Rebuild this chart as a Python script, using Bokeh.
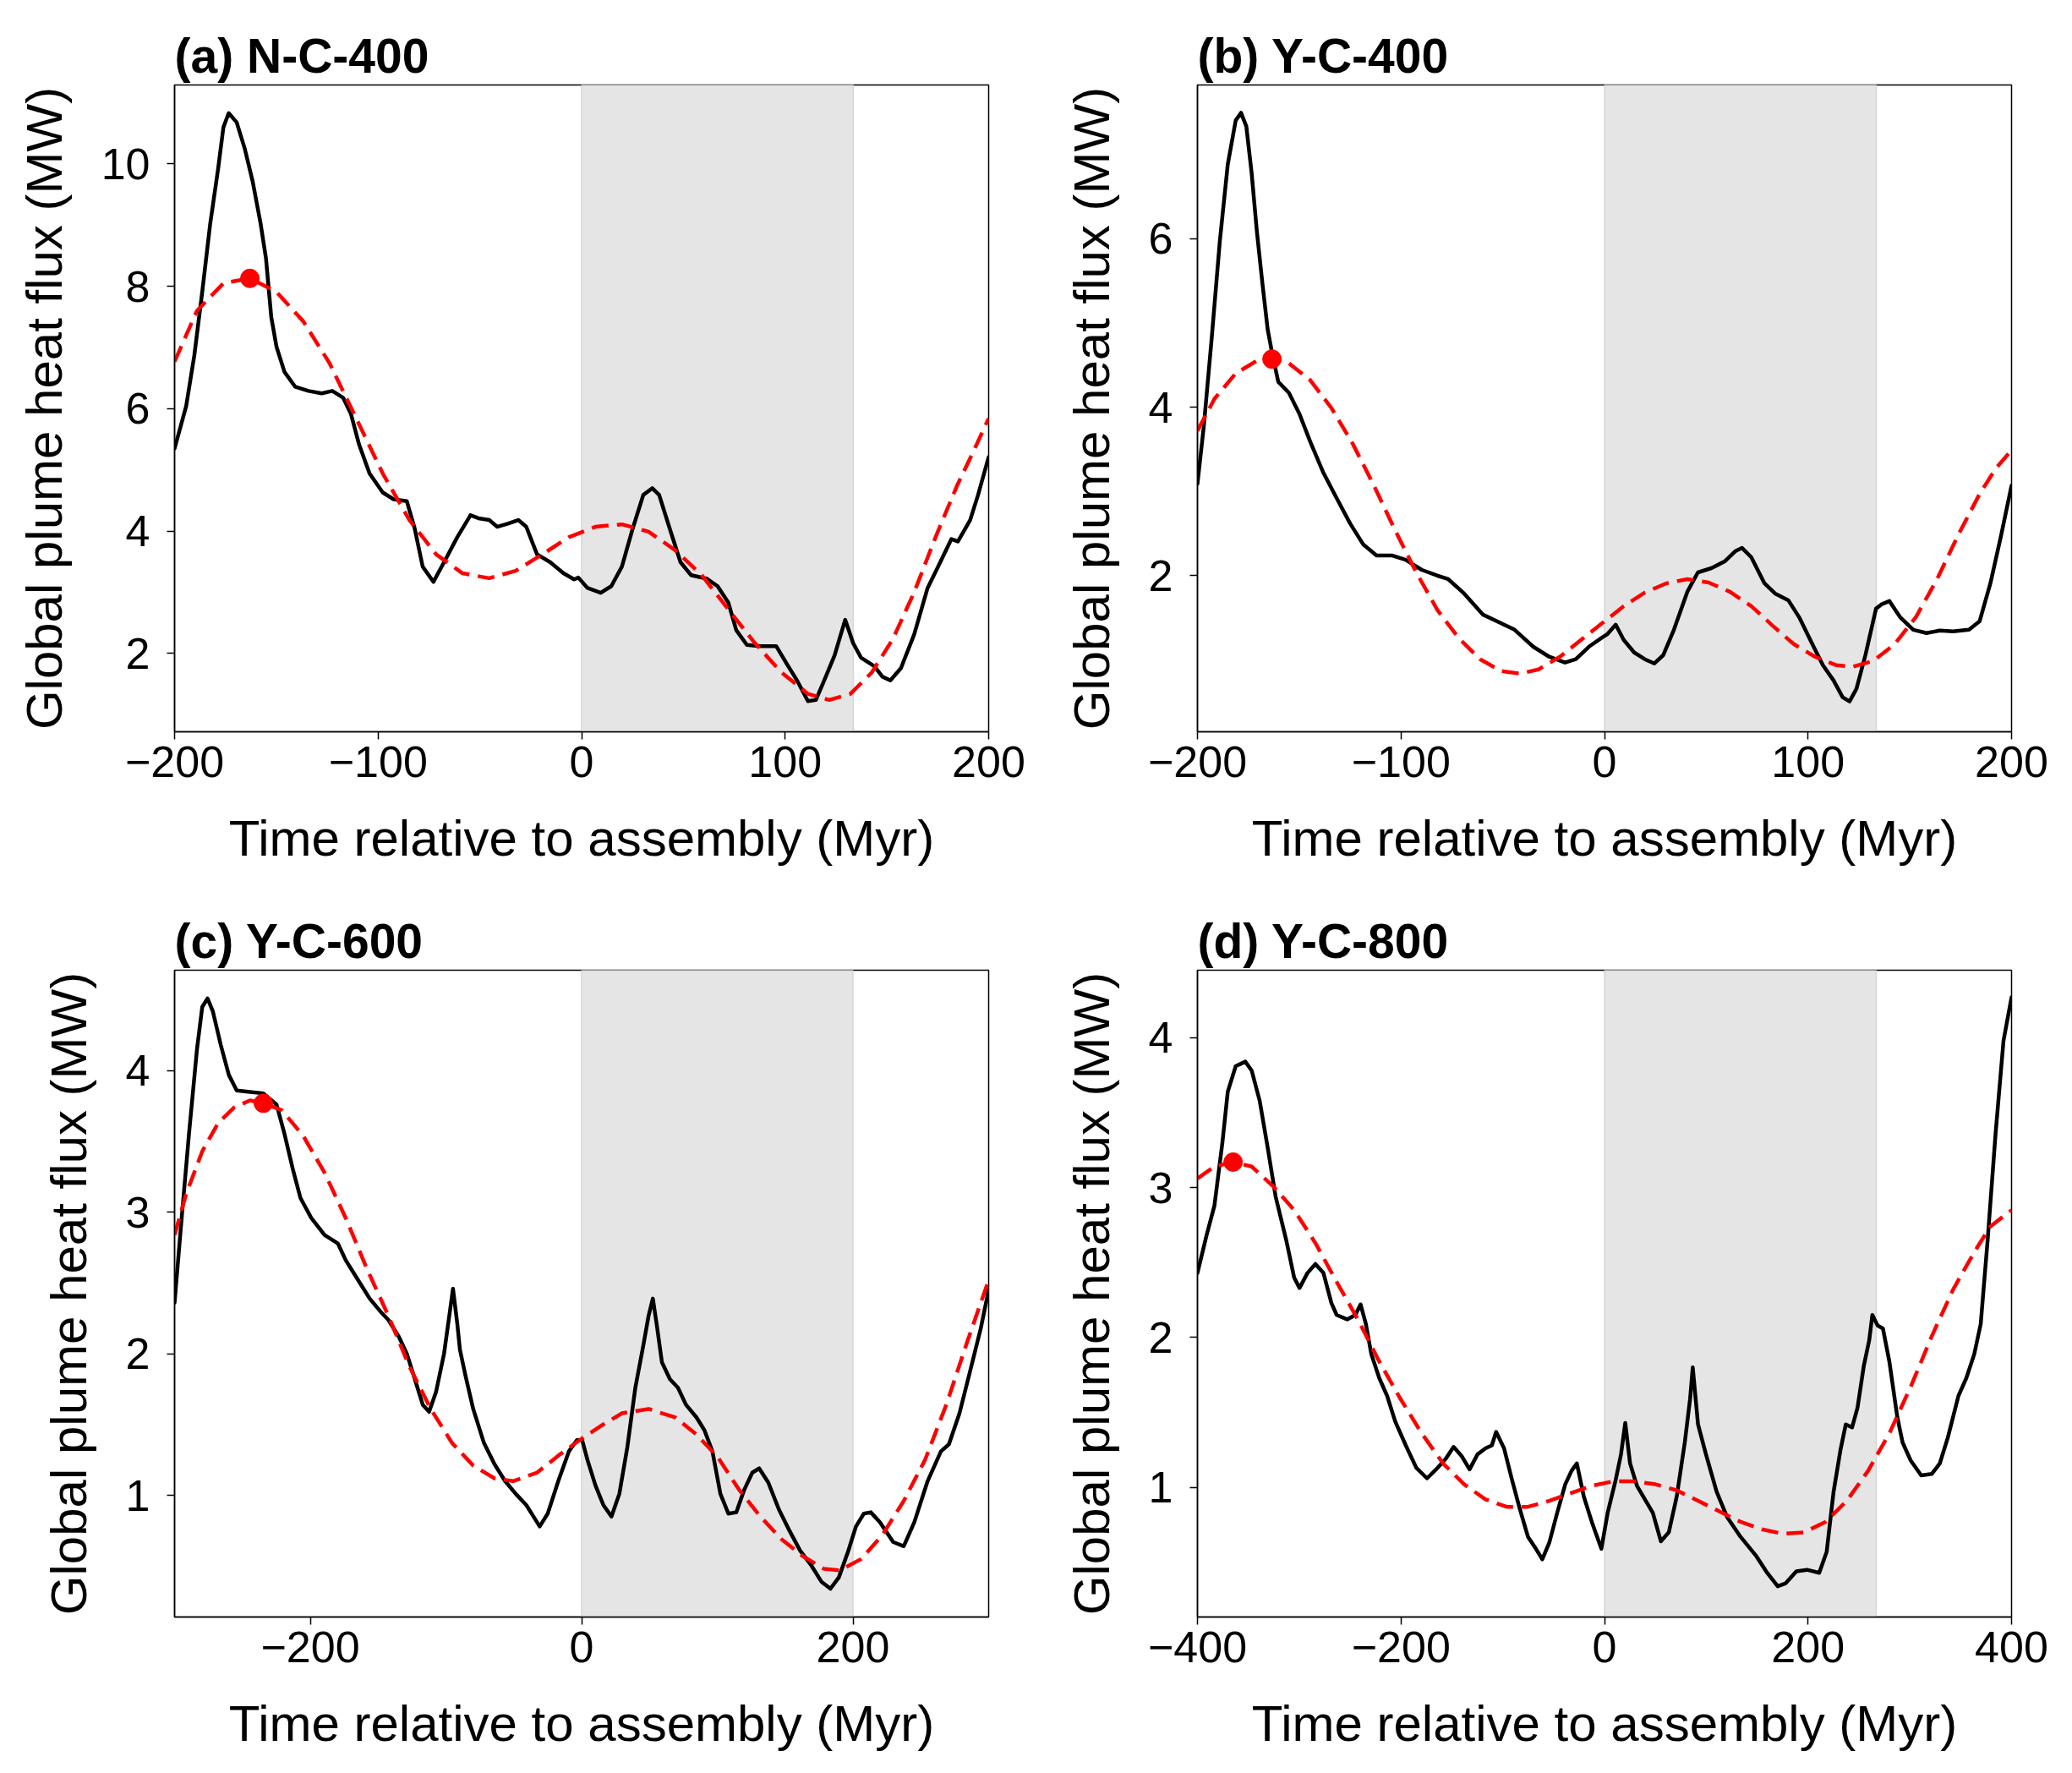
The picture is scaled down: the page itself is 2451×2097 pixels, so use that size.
from bokeh.plotting import figure
from bokeh.models import Range1d, FixedTicker, BoxAnnotation
from bokeh.layouts import column, row
from bokeh.embed import file_html
from bokeh.resources import INLINE

FONT = "Liberation Sans"

# ---------------- data ----------------
titles = ["(a) N-C-400", "(b) Y-C-400", "(c) Y-C-600", "(d) Y-C-800"]
x_label = "Time relative to assembly (Myr)"
y_label = "Global plume heat flux (MW)"

# panel (a)
a_x = [-200, -194.3, -190.3, -186.4, -182.5, -178.6, -176, -173.4, -169.5, -165.6, -161.6, -157.7,
       -155.1, -152.5, -149.9, -146, -140.8, -134.2, -127.7, -122.5, -117.2, -113.3, -109.4, -104.2,
       -97.7, -92.4, -85.9, -82, -78.1, -72.8, -67.6, -61.1, -54.6, -50.7, -45.4, -41.5, -36.3, -31.1,
       -27.2, -21.9, -15.4, -8.9, -3.7, -1.6, 2.9, 9.4, 14.6, 19.8, 25.1, 30.3, 34.7, 38.1, 43.3, 48.6,
       53.8, 61.6, 66.8, 72.1, 76, 81.2, 87.7, 95.6, 100.8, 106, 111.2, 115.1, 119.1, 124.3, 129.5,
       133.4, 137.3, 143.9, 147.8, 151.7, 156.9, 163.4, 170, 175.2, 181.7, 184.9, 190.9, 194.8, 200]
a_y = [5.35, 6.04, 6.87, 7.91, 9.02, 9.92, 10.6, 10.83, 10.68, 10.26, 9.71, 9.02,
       8.46, 7.5, 7.01, 6.6, 6.36, 6.29, 6.25, 6.29, 6.18, 5.91, 5.42, 4.94,
       4.63, 4.52, 4.49, 4.04, 3.42, 3.17, 3.49, 3.9, 4.26, 4.21, 4.18, 4.07, 4.12, 4.18,
       4.07, 3.62, 3.49, 3.31, 3.21, 3.24, 3.07, 2.99, 3.1, 3.42, 4.04, 4.59, 4.7, 4.59, 4.04, 3.49,
       3.28, 3.22, 3.1, 2.83, 2.38, 2.14, 2.12, 2.12, 1.83, 1.55, 1.22, 1.24, 1.55, 1.97, 2.55,
       2.17, 1.93, 1.79, 1.62, 1.56, 1.76, 2.31, 3.07, 3.42, 3.87, 3.83, 4.18, 4.59, 5.21]
a_fit_x = [-200, -189, -176, -163, -150, -136.8, -123.8, -110.7, -97.7, -84.6, -71.5, -58.5, -45.4,
           -32.4, -19.3, -6.3, 6.8, 19.8, 32.9, 45.9, 59, 72.1, 85.1, 98.2, 111.2, 121.7, 132.1,
           142.6, 153, 163.4, 173.9, 184.3, 192.2, 200]
a_fit_y = [6.77, 7.6, 8.05, 8.13, 7.91, 7.43, 6.74, 5.84, 4.94, 4.18, 3.62, 3.31, 3.23,
           3.35, 3.62, 3.9, 4.07, 4.11, 3.99, 3.69, 3.28, 2.72, 2.17, 1.69, 1.34, 1.24, 1.34,
           1.69, 2.24, 3.0, 3.9, 4.73, 5.28, 5.84]
a_peak = (-163, 8.13)

# panel (b)
b_x = [-200, -196.9, -193, -189, -185.1, -181.2, -178.6, -176, -173.4, -170.8, -168.1, -165.5,
       -163.4, -160.3, -155.1, -149.9, -144.6, -138.1, -131.6, -125, -118.5, -112, -104.2, -97.7,
       -89.8, -82, -76.8, -69, -59.8, -52, -44.2, -35.1, -27.2, -19.4, -14.1, -7.6, -1.1, 1.5, 5.5,
       9.4, 14.6, 19.8, 24.5, 28.9, 34.1, 40.7, 45.9, 52.5, 59, 64.2, 67.6, 72.1, 78.6, 83.8, 90.3,
       95.6, 102.1, 107.3, 112.5, 117, 120.4, 123.8, 128.2, 133.4, 136, 140, 145.2, 151.7, 158.2,
       164.7, 171.3, 179.1, 184.3, 189.6, 194.8, 200]
b_y = [3.09, 3.77, 4.82, 5.97, 6.88, 7.40, 7.49, 7.33, 6.78, 6.08, 5.47, 4.92,
       4.65, 4.30, 4.17, 3.92, 3.59, 3.22, 2.92, 2.62, 2.37, 2.24, 2.24, 2.19,
       2.07, 2.00, 1.96, 1.79, 1.54, 1.45, 1.36, 1.16, 1.04, 0.97, 1.01, 1.16, 1.27, 1.31, 1.42,
       1.24, 1.09, 1.01, 0.96, 1.06, 1.36, 1.81, 2.04, 2.09, 2.17, 2.29, 2.33, 2.22, 1.91, 1.79, 1.71,
       1.51, 1.19, 0.94, 0.76, 0.56, 0.51, 0.66, 1.06, 1.61, 1.66, 1.70, 1.51, 1.36, 1.32,
       1.35, 1.34, 1.36, 1.46, 1.91, 2.47, 3.07]
b_fit_x = [-200, -191.6, -181.2, -170.8, -163.4, -155.1, -144.6, -134.2, -123.8, -113.3, -102.9,
           -92.5, -82, -71.6, -61.1, -50.7, -41.5, -32.4, -21.9, -11.5, -1.0, 9.4, 19.8, 30.3, 40.7,
           51.2, 61.6, 72.1, 82.5, 93, 103.4, 113.8, 121.7, 132.1, 142.6, 153, 163.4, 173.9, 184.3,
           192.2, 200]
b_fit_y = [3.72, 4.10, 4.40, 4.55, 4.57, 4.52, 4.32, 3.99, 3.57, 3.07, 2.54,
           2.04, 1.59, 1.26, 1.01, 0.87, 0.84, 0.89, 1.04, 1.24, 1.44, 1.64, 1.80, 1.91, 1.96,
           1.92, 1.81, 1.64, 1.41, 1.19, 1.04, 0.94, 0.92, 0.99, 1.19, 1.51, 1.96, 2.49, 2.97,
           3.27, 3.49]
b_peak = (-163.4, 4.57)

# panel (c)
c_x = [-300, -295.3, -289.4, -283.5, -279.6, -275.7, -271.8, -265.9, -260, -254.2, -244.4, -234.6,
       -224.8, -218.9, -213.0, -207.2, -199.3, -189.5, -179.7, -173.8, -166, -156.2, -148.4, -142.5,
       -134.7, -128.8, -122.9, -117.1, -112.4, -107.3, -101.4, -97.5, -94.8, -91.6, -89.7, -85.7,
       -79.9, -72.0, -64.2, -56.4, -48.5, -40.7, -34.8, -30.9, -25.0, -17.2, -9.4, -3.5, 0.4, 4.3,
       10.2, 16.1, 22.0, 27.8, 33.7, 39.6, 45.5, 49.4, 52.5, 55.3, 59.2, 65.1, 71.0, 76.9, 84.7,
       90.5, 96.4, 102.3, 108.2, 114.0, 119.9, 125.8, 130.9, 137.6, 145.4, 153.2, 161.0, 168.9,
       176.7, 183.4, 189.6, 196.3, 202.2, 208.0, 213.1, 219.8, 229.6, 237.4, 245.2, 255.0, 264.8,
       270.7, 278.5, 286.4, 294.2, 300]
c_y = [2.36, 2.90, 3.55, 4.15, 4.45, 4.51, 4.42, 4.18, 3.97, 3.86, 3.85, 3.84,
       3.76, 3.55, 3.31, 3.10, 2.96, 2.84, 2.78, 2.66, 2.54, 2.39, 2.30, 2.24,
       2.12, 2.00, 1.82, 1.64, 1.59, 1.73, 2.00, 2.27, 2.46, 2.21, 2.03, 1.85,
       1.61, 1.37, 1.22, 1.10, 1.01, 0.93, 0.84, 0.78, 0.87, 1.10, 1.31, 1.39, 1.39, 1.25,
       1.07, 0.93, 0.85, 1.01, 1.34, 1.76, 2.06, 2.27, 2.39, 2.21, 1.94, 1.82, 1.76, 1.64, 1.55,
       1.46, 1.31, 1.01, 0.87, 0.88, 1.04, 1.16, 1.19, 1.09, 0.90, 0.75, 0.61, 0.51,
       0.39, 0.34, 0.42, 0.60, 0.78, 0.87, 0.88, 0.81, 0.67, 0.64, 0.81, 1.10, 1.31,
       1.36, 1.58, 1.88, 2.18, 2.45]
c_fit_x = [-300, -291.4, -279.6, -267.9, -256.1, -244.4, -234.6, -220.9, -205.2, -189.5, -173.9,
           -158.2, -142.5, -126.9, -111.2, -95.5, -79.9, -64.2, -50.5, -32.9, -17.2, -1.5, 14.1,
           29.8, 49.4, 69.0, 84.6, 100.3, 116.0, 131.7, 147.3, 163.0, 178.7, 190.4, 206.1, 221.7,
           237.4, 253.1, 268.8, 284.4, 300]
c_fit_y = [2.84, 3.13, 3.43, 3.63, 3.74, 3.79, 3.77, 3.72, 3.54, 3.28, 2.96,
           2.60, 2.27, 1.91, 1.61, 1.37, 1.21, 1.12, 1.10, 1.16, 1.28, 1.39, 1.49,
           1.58, 1.61, 1.55, 1.43, 1.27, 1.04, 0.85, 0.69, 0.57, 0.48, 0.47, 0.55, 0.72,
           0.96, 1.25, 1.64, 2.09, 2.52]
c_peak = (-234.6, 3.77)

# panel (d)
d_x = [-400, -391.1, -383.3, -375.5, -370.2, -362.4, -353, -346.7, -338.9, -331.1, -323.2, -312.8,
       -305.0, -299.7, -291.9, -284.1, -276.2, -268.4, -263.2, -252.7, -244.9, -239.7, -234.5,
       -229.2, -221.4, -213.6, -205.7, -195.3, -184.9, -174.4, -164.0, -156.1, -148.3, -140.5,
       -132.6, -124.8, -117.0, -110.7, -106.5, -98.7, -90.9, -83.0, -75.2, -67.4, -61.1, -54.3,
       -46.5, -38.6, -32.4, -27.2, -20.4, -12.5, -3.1, 3.1, 11.0, 16.2, 20.4, 25.1, 31.9, 39.7,
       47.5, 55.4, 63.2, 71.0, 78.9, 84.1, 86.7, 91.9, 99.7, 110.2, 120.6, 133.7, 149.3, 159.8,
       170.2, 178.1, 188.5, 198.9, 211.0, 218.3, 225.1, 231.9, 237.1, 243.3, 248.6, 254.8, 260.1,
       263.2, 268.4, 273.6, 279.9, 287.7, 292.9, 300.8, 311.2, 321.7, 329.5, 337.3, 347.8, 355.6,
       363.4, 369.7, 376.5, 384.3, 392.1, 400]
d_y = [2.43, 2.68, 2.88, 3.30, 3.64, 3.81, 3.84, 3.78, 3.58, 3.27, 2.94, 2.65,
       2.40, 2.33, 2.43, 2.49, 2.43, 2.23, 2.15, 2.12, 2.15, 2.22, 2.09,
       1.89, 1.73, 1.61, 1.44, 1.28, 1.13, 1.06, 1.13, 1.19, 1.27, 1.21,
       1.12, 1.22, 1.26, 1.28, 1.37, 1.26, 1.05, 0.85, 0.67, 0.59, 0.52, 0.63,
       0.83, 1.02, 1.11, 1.16, 0.94, 0.77, 0.59, 0.83, 1.05, 1.22, 1.43, 1.16, 1.01, 0.92,
       0.83, 0.64, 0.70, 0.94, 1.30, 1.59, 1.80, 1.42, 1.22, 0.97, 0.80, 0.67, 0.54, 0.43,
       0.34, 0.36, 0.44, 0.45, 0.43, 0.57, 0.97, 1.25, 1.42, 1.40, 1.53, 1.81, 1.98,
       2.15, 2.08, 2.06, 1.84, 1.47, 1.30, 1.18, 1.08, 1.09, 1.16, 1.33, 1.61, 1.73,
       1.89, 2.09, 2.65, 3.36, 3.98, 4.27]
d_fit_x = [-400, -383.3, -365.0, -346.7, -325.8, -305.0, -284.1, -263.2, -242.3, -221.4, -200.5,
           -179.6, -158.7, -137.9, -117.0, -96.1, -75.2, -54.3, -33.4, -12.5, 8.4, 29.2, 50.1,
           71.0, 91.9, 112.8, 133.7, 154.6, 175.5, 196.3, 217.2, 238.1, 259.0, 279.9, 300.8,
           321.7, 342.6, 363.4, 379.1, 400]
d_fit_y = [3.06, 3.14, 3.17, 3.14, 3.01, 2.85, 2.63, 2.37, 2.12, 1.84, 1.59,
           1.36, 1.16, 1.02, 0.92, 0.87, 0.87, 0.91, 0.96, 1.01, 1.04, 1.04, 1.02,
           0.98, 0.91, 0.84, 0.77, 0.72, 0.69, 0.70, 0.77, 0.91, 1.11, 1.36, 1.67,
           2.01, 2.32, 2.57, 2.74, 2.85]
d_peak = (-365.0, 3.17)

# axis extents, shaded interval end, ticks
x_ranges = [(-200, 200), (-200, 200), (-300, 300), (-400, 400)]
y_ranges = [(0.72, 11.29), (0.15, 7.82), (0.14, 4.71), (0.135, 4.45)]
shade_end = [133.5, 133.5, 200, 267]
x_ticks = [[-200, -100, 0, 100, 200], [-200, -100, 0, 100, 200], [-200, 0, 200], [-400, -200, 0, 200, 400]]
y_ticks = [[2, 4, 6, 8, 10], [2, 4, 6], [1, 2, 3, 4], [1, 2, 3, 4]]

series = [(a_x, a_y, a_fit_x, a_fit_y, a_peak), (b_x, b_y, b_fit_x, b_fit_y, b_peak),
          (c_x, c_y, c_fit_x, c_fit_y, c_peak), (d_x, d_y, d_fit_x, d_fit_y, d_peak)]

# layout (pixels)
FW, FH = 963, 765
borders = [  # left, right, top, bottom
    (206, 56, 100, 185),
    (191, 63, 100, 185),
    (206, 56, 97, 180),
    (191, 63, 97, 180),
]


def fmt(v):
    return str(v).replace("-", "\u2212")


def make_panel(i):
    xs, ys, fx, fy, pk = series[i]
    bl, br, bt, bb = borders[i]
    p = figure(frame_width=FW, frame_height=FH,
               min_border_left=bl, min_border_right=br, min_border_top=bt, min_border_bottom=bb,
               x_range=Range1d(*x_ranges[i]), y_range=Range1d(*y_ranges[i]),
               output_backend="svg", toolbar_location=None, tools="")
    p.background_fill_color = "white"
    p.border_fill_color = "white"
    p.grid.visible = False
    p.outline_line_color = "black"
    p.outline_line_width = 1.5
    p.outline_line_alpha = 1.0

    p.title.text = titles[i]
    p.title.text_font = FONT
    p.title.text_font_size = "57px"
    p.title.text_font_style = "bold"
    p.title.text_color = "black"
    p.title.align = "left"
    p.title.standoff = 5

    shade = BoxAnnotation(left=0, right=shade_end[i], fill_color="#e5e5e5", fill_alpha=1.0,
                          line_color="#d6d6d6", line_alpha=1.0, line_width=1.5, level="underlay")
    p.add_layout(shade)

    p.line(xs, ys, line_color="black", line_width=4.5, line_join="round", line_cap="round")
    p.line(fx, fy, line_color="red", line_width=4.5, line_dash="20 10")
    p.scatter([pk[0]], [pk[1]], size=22, color="red")

    for ax, ticks in ((p.xaxis[0], x_ticks[i]), (p.yaxis[0], y_ticks[i])):
        ax.ticker = FixedTicker(ticks=ticks)
        ax.major_label_overrides = {t: fmt(t) for t in ticks}
        ax.minor_tick_line_color = None
        ax.major_tick_out = 9
        ax.major_tick_in = 0
        ax.major_tick_line_width = 1.5
        ax.major_tick_line_color = "black"
        ax.axis_line_width = 1.5
        ax.axis_line_color = "black"
        ax.major_label_text_font = FONT
        ax.major_label_text_font_size = "52px"
        ax.major_label_text_color = "black"
        ax.axis_label_text_font = FONT
        ax.axis_label_text_font_size = "60px"
        ax.axis_label_text_font_style = "normal"
        ax.axis_label_text_color = "black"
    p.xaxis.axis_label = x_label
    p.yaxis.axis_label = y_label
    p.xaxis.major_label_standoff = 8
    p.xaxis.axis_label_standoff = 36
    p.yaxis.major_label_standoff = 20
    p.yaxis.axis_label_standoff = 31
    return p


panels = [make_panel(i) for i in range(4)]
layout = column(row(panels[0], panels[1]), row(panels[2], panels[3]))

open("out.html", "w").write(file_html(layout, INLINE))
